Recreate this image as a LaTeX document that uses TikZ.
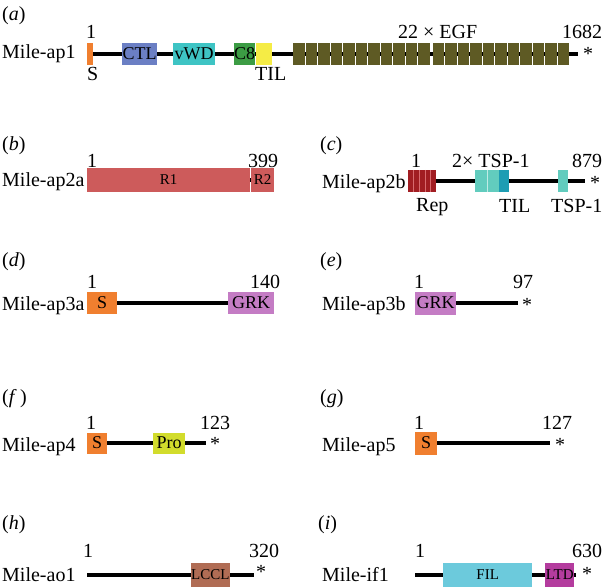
\documentclass[tikz,border=0pt]{standalone}
\usepackage{fontspec}
\setmainfont{Liberation Serif}
\definecolor{sigorange}{HTML}{F07F2F}
\definecolor{ctlblue}{HTML}{6B7FC4}
\definecolor{vwdteal}{HTML}{3EC4C4}
\definecolor{c8green}{HTML}{3C9C44}
\definecolor{tilyellow}{HTML}{F5EC45}
\definecolor{egfolive}{HTML}{5E5A24}
\definecolor{rred}{HTML}{CD5B5B}
\definecolor{repred}{HTML}{A11D22}
\definecolor{reppink}{HTML}{D86A6E}
\definecolor{tspteal}{HTML}{62CCBE}
\definecolor{tildark}{HTML}{1E9DB3}
\definecolor{grkorchid}{HTML}{C47CC4}
\definecolor{proyellow}{HTML}{D2DC2C}
\definecolor{lcclbrown}{HTML}{B06C54}
\definecolor{filblue}{HTML}{6CCADC}
\definecolor{ltdmag}{HTML}{B43C9E}
\begin{document}
\begin{tikzpicture}[x=1pt,y=-1pt,
	lbl/.style={anchor=base west,inner sep=0pt,font=\fontsize{20}{24}\selectfont},
	dom/.style={anchor=west,inner sep=0pt,minimum height=22pt,font=\fontsize{18}{20}\selectfont},
	domsmall/.style={font=\fontsize{15}{17}\selectfont},
	backbone/.style={line width=3.5pt}]
\useasboundingbox (0,0) rectangle (602,586);
% (a)
\coordinate (ap1n) at (87,54);
\coordinate (ap1c) at (578,54);
\draw[backbone] (ap1n) -- (ap1c);
\node[dom,fill=sigorange,minimum width=6pt] (ap1s) at (87,54) {};
\node[dom,fill=ctlblue,minimum width=35pt] (ap1ctl) at (122,54) {CTL};
\node[dom,fill=vwdteal,minimum width=42pt] (ap1vwd) at (173,54) {vWD};
\node[dom,fill=c8green,minimum width=20pt] (ap1c8) at (234,54) {C8};
\node[dom,fill=tilyellow,minimum width=16pt] (ap1til) at (256,54) {};
\foreach \i in {0,...,21}
	\node[dom,fill=egfolive,minimum width=11.5pt] (egf\i) at ({293+12.5*\i+2*(\i>10)},54) {};
\node[lbl] (lbla) at (2,21) {(\textit{a})};
\node[lbl] (ap1name) at (2,59) {Mile-ap1};
\node[lbl] (ap1first) at (86,38) {1};
\node[lbl] (ap1last) at (562,38) {1682};
\node[lbl] (egflbl) at (398,38) {22 × EGF};
\node[lbl] (ap1slbl) at (87,80) {S};
\node[lbl] (ap1tillbl) at (255,81) {TIL};
\node[lbl] (ap1end) at (583,61) {*};
% (b)
\coordinate (ap2an) at (87,180);
\coordinate (ap2ac) at (274,180);
\draw[backbone] (ap2an) -- (ap2ac);
\node[dom,domsmall,fill=rred,minimum width=163pt,minimum height=24pt] (ap2ar1) at (87,180) {R1};
\node[dom,domsmall,fill=rred,minimum width=23pt,minimum height=24pt] (ap2ar2) at (251,180) {R2};
\node[lbl] (lblb) at (2,150) {(\textit{b})};
\node[lbl] (ap2aname) at (2,186) {Mile-ap2a};
\node[lbl] (ap2afirst) at (87,167) {1};
\node[lbl] (ap2alast) at (248,167) {399};
% (c)
\coordinate (ap2bn) at (408,181);
\coordinate (ap2bc) at (585,181);
\draw[backbone] (ap2bn) -- (ap2bc);
\node[dom,fill=repred,minimum width=28pt] (ap2brep) at (408,181) {};
\foreach \i in {1,...,4}
	\draw[reppink,line width=0.6pt] ([xshift=\i*5.6pt]ap2brep.north west) -- ([xshift=\i*5.6pt]ap2brep.south west);
\node[dom,fill=tspteal,minimum width=12pt] (ap2btspa) at (475,181) {};
\node[dom,fill=tspteal,minimum width=12pt] (ap2btspb) at (487,181) {};
\draw[white!60!tspteal,line width=0.6pt] (ap2btspa.north east) -- (ap2btspa.south east);
\node[dom,fill=tildark,minimum width=10pt] (ap2btil) at (499,181) {};
\node[dom,fill=tspteal,minimum width=10pt] (ap2btspc) at (558,181) {};
\node[lbl] (lblc) at (320,150) {(\textit{c})};
\node[lbl] (ap2bname) at (322,188) {Mile-ap2b};
\node[lbl] (ap2bfirst) at (411,167) {1};
\node[lbl] (tsplbl) at (452,167) {2× TSP-1};
\node[lbl] (ap2blast) at (572,167) {879};
\node[lbl] (replbl) at (416,211) {Rep};
\node[lbl] (ap2btillbl) at (499,212) {TIL};
\node[lbl] (tspclbl) at (551,212) {TSP-1};
\node[lbl] (ap2bend) at (590,189) {*};
% (d)
\coordinate (ap3an) at (87,303);
\coordinate (ap3ac) at (274,303);
\draw[backbone] (ap3an) -- (ap3ac);
\node[dom,fill=sigorange,minimum width=30pt] (ap3as) at (87,303) {S};
\node[dom,fill=grkorchid,minimum width=46pt] (ap3agrk) at (228,303) {GRK};
\node[lbl] (lbld) at (2,266) {(\textit{d})};
\node[lbl] (ap3aname) at (2,310) {Mile-ap3a};
\node[lbl] (ap3afirst) at (87,288) {1};
\node[lbl] (ap3alast) at (250,288) {140};
% (e)
\coordinate (ap3bn) at (415,303);
\coordinate (ap3bc) at (518,303);
\draw[backbone] (ap3bn) -- (ap3bc);
\node[dom,fill=grkorchid,minimum width=41pt,minimum height=23pt] (ap3bgrk) at (415,303) {GRK};
\node[lbl] (lble) at (320,266) {(\textit{e})};
\node[lbl] (ap3bname) at (322,310) {Mile-ap3b};
\node[lbl] (ap3bfirst) at (414,288) {1};
\node[lbl] (ap3blast) at (513,288) {97};
\node[lbl] (ap3bend) at (522,311) {*};
% (f)
\coordinate (ap4n) at (87,443);
\coordinate (ap4c) at (206,443);
\draw[backbone] (ap4n) -- (ap4c);
\node[dom,fill=sigorange,minimum width=20pt,minimum height=21pt] (ap4s) at (87,443) {S};
\node[dom,fill=proyellow,minimum width=32pt,minimum height=21pt] (ap4pro) at (153,443) {Pro};
\node[lbl] (lblf) at (2,403) {(\textit{f}\,)};
\node[lbl] (ap4name) at (2,451) {Mile-ap4};
\node[lbl] (ap4first) at (86,429) {1};
\node[lbl] (ap4last) at (200,429) {123};
\node[lbl] (ap4end) at (210,450) {*};
% (g)
\coordinate (ap5n) at (415,443);
\coordinate (ap5c) at (550,443);
\draw[backbone] (ap5n) -- (ap5c);
\node[dom,fill=sigorange,minimum width=22pt,minimum height=23pt] (ap5s) at (415,443) {S};
\node[lbl] (lblg) at (320,403) {(\textit{g})};
\node[lbl] (ap5name) at (322,451) {Mile-ap5};
\node[lbl] (ap5first) at (414,429) {1};
\node[lbl] (ap5last) at (542,429) {127};
\node[lbl] (ap5end) at (555,451) {*};
% (h)
\coordinate (ao1n) at (87,575);
\coordinate (ao1c) at (254,575);
\draw[backbone] (ao1n) -- (ao1c);
\node[dom,domsmall,fill=lcclbrown,minimum width=38pt,minimum height=24pt] (ao1lccl) at (191,575) {LCCL};
\node[lbl] (lblh) at (2,529) {(\textit{h})};
\node[lbl] (ao1name) at (2,581) {Mile-ao1};
\node[lbl] (ao1first) at (83,557) {1};
\node[lbl] (ao1last) at (249,557) {320};
\node[lbl] (ao1end) at (256,578) {*};
% (i)
\coordinate (if1n) at (415,575);
\coordinate (if1c) at (576,575);
\draw[backbone] (if1n) -- (if1c);
\node[dom,domsmall,fill=filblue,minimum width=89pt,minimum height=24pt] (if1fil) at (443,575) {FIL};
\node[dom,domsmall,fill=ltdmag,minimum width=29pt,minimum height=24pt] (if1ltd) at (545,575) {LTD};
\node[lbl] (lbli) at (318,529) {(\textit{i})};
\node[lbl] (if1name) at (322,581) {Mile-if1};
\node[lbl] (if1first) at (415,557) {1};
\node[lbl] (if1last) at (572,557) {630};
\node[lbl] (if1end) at (582,580) {*};
\end{tikzpicture}
\end{document}
